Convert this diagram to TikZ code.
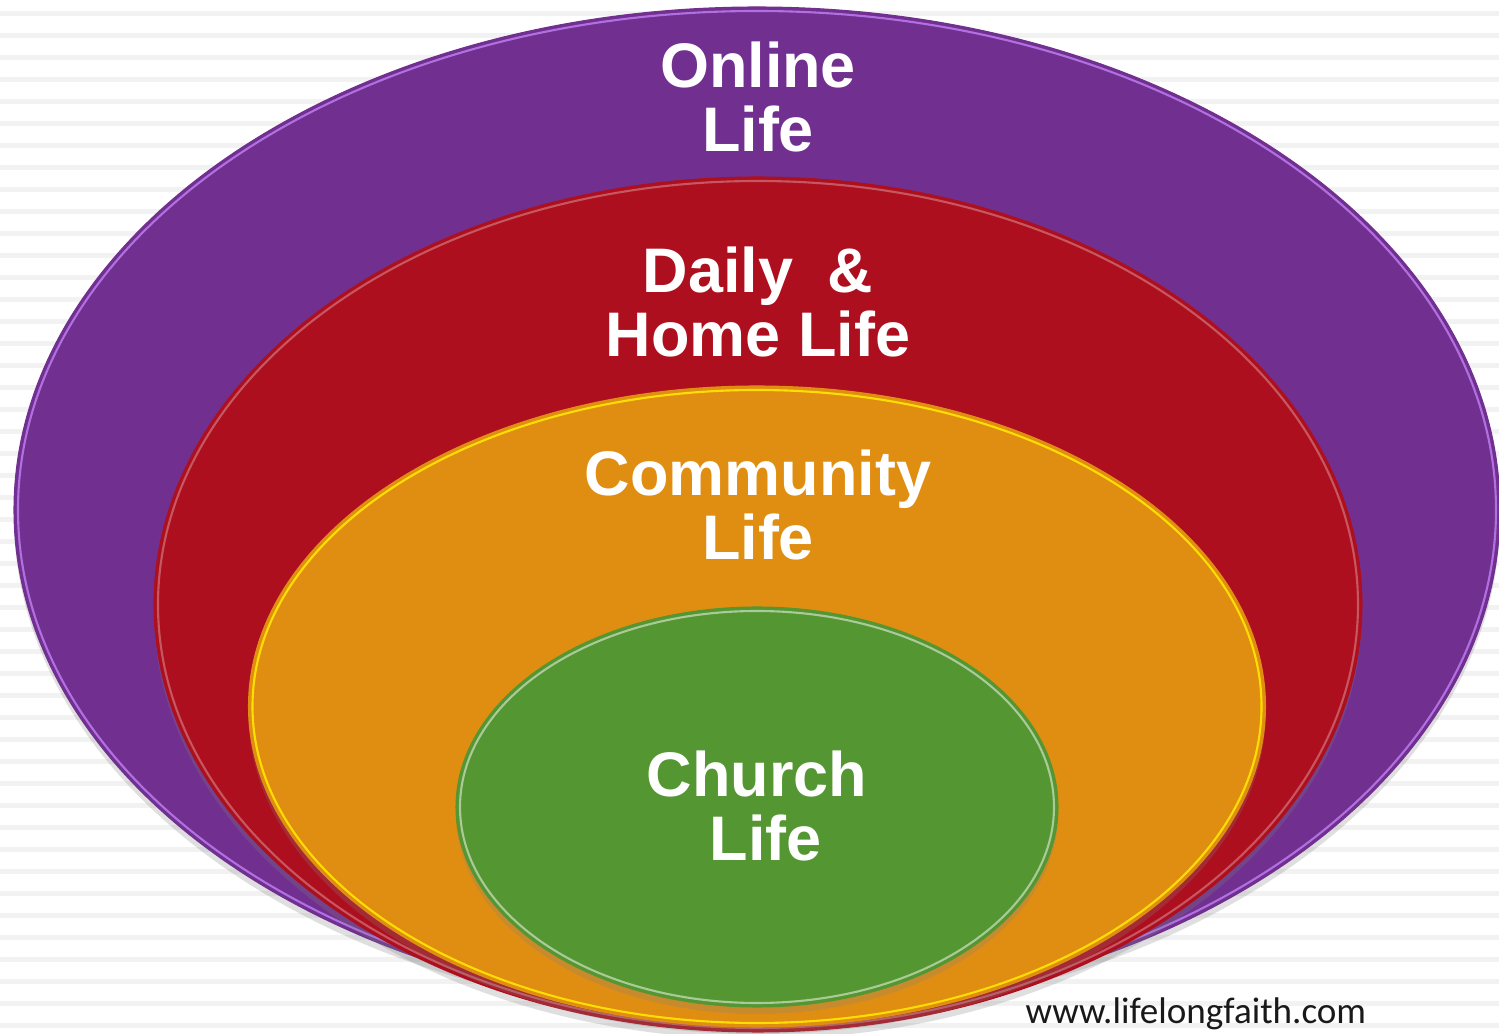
\documentclass[tikz,border=0pt]{standalone}
\usepackage{fontspec}
\setmainfont{Liberation Sans}
\newfontfamily\webfont{Carlito}
\usetikzlibrary{shadows}
\definecolor{mpurple}{RGB}{113,48,144}
\definecolor{mred}{RGB}{174,15,30}
\definecolor{morange}{RGB}{224,142,18}
\definecolor{mgreen}{RGB}{84,150,50}
\definecolor{mstripe}{RGB}{242,242,242}
\definecolor{mpurplerim}{RGB}{176,112,224}
\tikzset{ring/.style = {draw=black!45, line width=0.3pt,
                        drop shadow={opacity=0.25, shadow xshift=0pt, shadow yshift=-2pt}},
         rim/.style = {line width=0.6pt},
         lifetext/.style = {text=white, align=center, anchor=base,
                            font=\fontsize{17.9}{18.4}\selectfont\bfseries}}

\begin{document}
\begin{tikzpicture}[x=0.01cm, y=-0.01cm]
    \useasboundingbox (0, 0) rectangle (1499, 1034);
    \fill [white] (0, 0) rectangle (1499, 1034);
    \foreach \k in {0,...,46}
      \fill [mstripe] (0, 11+22*\k) rectangle (1499, 16+22*\k);

    % rings, outermost first
    \fill [ring, mpurple] (757, 510) ellipse (743 and 503);
    \draw [rim, mpurplerim] (757, 510) ellipse (739 and 499);
    \fill [ring, mred] (758, 604.5) ellipse (604 and 427.5);
    \draw [rim, mred!70!white] (758, 604.5) ellipse (600 and 423.5);
    \fill [ring, morange] (757, 706.5) ellipse (508.5 and 320.5);
    \draw [rim, yellow!80!orange] (757, 706.5) ellipse (504.5 and 316.5);
    \fill [ring, mgreen] (757, 807) ellipse (301 and 200);
    \draw [rim, mgreen!50!white] (757, 807) ellipse (297 and 196);

    % base anchor sits on the last line
    \node [lifetext] (online) at (758, 152) {Online\\Life};
    \node [lifetext] (home) at (758, 357) {Daily~~\&\\Home Life};
    \node [lifetext] (community) at (758, 560) {Community\\Life};
    \node [lifetext] (church) at (757, 861) {Church\\\hspace*{0.278em}Life};

    \node [anchor=base west, inner sep=0pt, text=black!90,
           font=\webfont\fontsize{10.55}{12}\selectfont] (web) at (1025, 1024) {www.lifelongfaith.com};
\end{tikzpicture}
\end{document}
